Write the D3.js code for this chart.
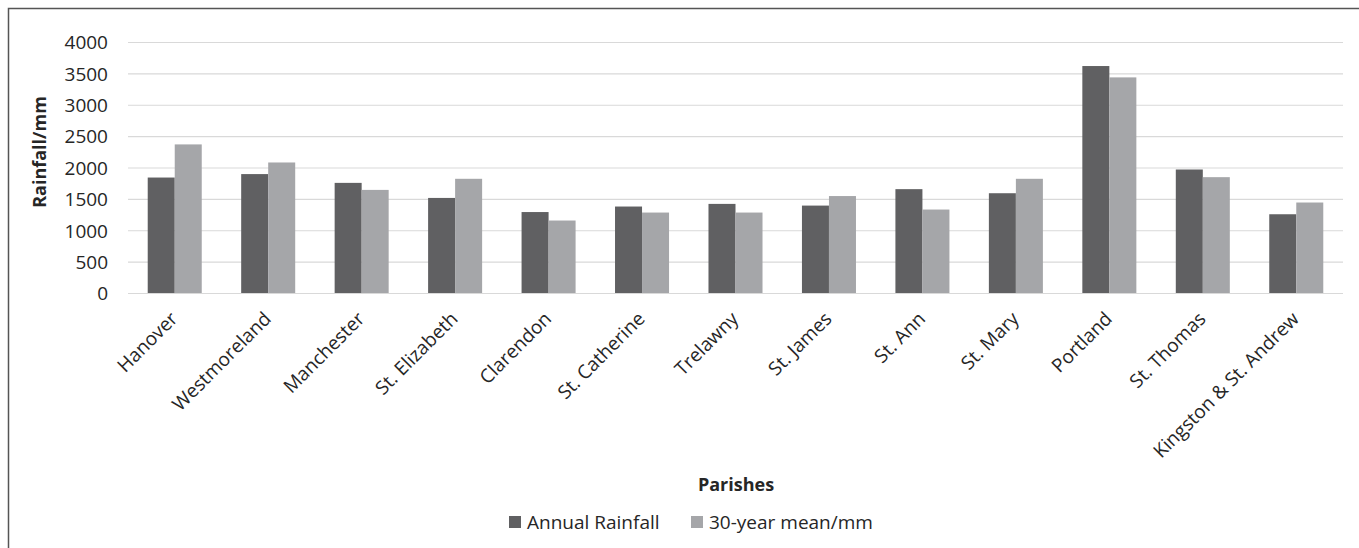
<!DOCTYPE html>
<html>
<head>
<meta charset="utf-8">
<script src="https://cdn.jsdelivr.net/npm/d3@7"></script>
<style>
  html, body { margin: 0; padding: 0; background: #fff; }
  svg { display: block; }
  text { font-family: "Open Sans", "Liberation Sans", sans-serif; fill: #262626; }
</style>
</head>
<body>
<svg id="chart" width="1359" height="548"></svg>
<script>
// Parishes of Jamaica and their rainfall (mm)
const parishes = ["Hanover", "Westmoreland", "Manchester", "St. Elizabeth", "Clarendon",
  "St. Catherine", "Trelawny", "St. James", "St. Ann", "St. Mary", "Portland",
  "St. Thomas", "Kingston & St. Andrew"];
const annualRainfall = [1840, 1895, 1755, 1515, 1290, 1378, 1420, 1393, 1655, 1590, 3617, 1968, 1255];
const thirtyYearMean = [2368, 2080, 1643, 1820, 1155, 1282, 1282, 1545, 1330, 1820, 3436, 1846, 1442];
const seriesNames = ["Annual Rainfall", "30-year mean/mm"];
const seriesColors = ["#606062", "#a5a6a9"];
const yTicks = [0, 500, 1000, 1500, 2000, 2500, 3000, 3500, 4000];

const svg = d3.select("#chart");
const margin = { left: 128, right: 16, top: 42, bottom: 255 };
const width = 1359, height = 548;

// Outer frame (top and left edges visible)
svg.append("path")
  .attr("d", `M8.5,${height} V8.5 H${width}`)
  .attr("fill", "none")
  .attr("stroke", "#555")
  .attr("stroke-width", 1.5);

const x0 = d3.scaleBand()
  .domain(parishes)
  .range([margin.left, width - margin.right])
  .paddingInner(0.422)
  .paddingOuter(0.211);

const x1 = d3.scaleBand()
  .domain(seriesNames)
  .range([0, x0.bandwidth()]);

const y = d3.scaleLinear()
  .domain([0, 4000])
  .range([height - margin.bottom, margin.top]);

// Horizontal gridlines and value labels
const yAxis = d3.axisLeft(y)
  .tickValues(yTicks)
  .tickSize(-(width - margin.right - margin.left))
  .tickPadding(20)
  .tickFormat(d3.format("d"));

const yg = svg.append("g")
  .attr("transform", `translate(${margin.left},0)`)
  .call(yAxis);
yg.select(".domain").remove();
yg.selectAll(".tick line").attr("stroke", "#d9d9d9").attr("stroke-width", 1.2);
yg.selectAll(".tick text")
  .style("font-size", "19px")
  .attr("fill", "#262626")
  .attr("dy", "0.36em");

// Grouped bars
const series = [annualRainfall, thirtyYearMean];
const groups = svg.append("g")
  .selectAll("g")
  .data(parishes)
  .join("g")
  .attr("transform", d => `translate(${x0(d)},0)`);

groups.selectAll("rect")
  .data((d, i) => seriesNames.map((s, k) => ({ s, v: series[k][i], k })))
  .join("rect")
  .attr("x", d => x1(d.s))
  .attr("width", x1.bandwidth())
  .attr("y", d => y(d.v))
  .attr("height", d => y(0) - y(d.v))
  .attr("fill", d => seriesColors[d.k]);

// Category labels, rotated
const xAxis = d3.axisBottom(x0).tickSize(0).tickPadding(0);
const xg = svg.append("g")
  .attr("transform", `translate(0,${y(0)})`)
  .call(xAxis);
xg.select(".domain").remove();
xg.selectAll(".tick text")
  .style("font-size", "19px")
  .attr("fill", "#262626")
  .attr("text-anchor", "end")
  .attr("dy", null)
  .attr("y", 0)
  .attr("transform", "translate(4,27) rotate(-45)");

// Axis titles
svg.append("text")
  .attr("transform", `translate(46,${152}) rotate(-90)`)
  .attr("text-anchor", "middle")
  .style("font-size", "18px")
  .style("font-weight", "bold")
  .text("Rainfall/mm");

svg.append("text")
  .attr("x", 736)
  .attr("y", 491)
  .attr("text-anchor", "middle")
  .style("font-size", "18px")
  .style("font-weight", "bold")
  .text("Parishes");

// Legend
const legend = svg.append("g");
const legendX = [509, 691];
seriesNames.forEach((name, k) => {
  legend.append("rect")
    .attr("x", legendX[k])
    .attr("y", 516)
    .attr("width", 12)
    .attr("height", 12)
    .attr("fill", seriesColors[k]);
  legend.append("text")
    .attr("x", legendX[k] + 18)
    .attr("y", 529)
    .style("font-size", "19px")
    .text(name);
});
</script>
</body>
</html>
